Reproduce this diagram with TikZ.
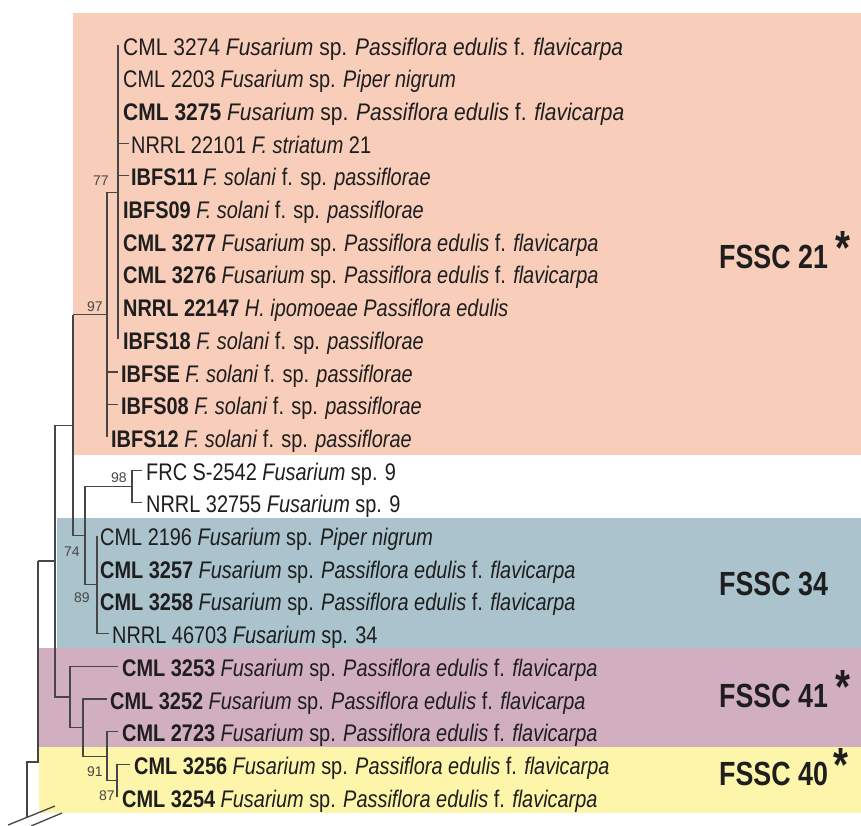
\documentclass[tikz,border=0pt]{standalone}
\usepackage{fontspec}
\setmainfont[FakeStretch=0.83]{Liberation Sans}
\newfontfamily\wideleaf[FakeStretch=0.875]{Liberation Sans}
\newfontfamily\cladefont[FakeStretch=0.8]{Liberation Sans}
\newfontfamily\bootfont{Liberation Sans}
\definecolor{salmonbg}{RGB}{248,205,186}
\definecolor{bluebg}{RGB}{170,195,205}
\definecolor{mauvebg}{RGB}{210,175,192}
\definecolor{yellowbg}{RGB}{253,245,170}
\definecolor{inkc}{RGB}{30,30,30}
\definecolor{linec}{RGB}{70,70,70}
\begin{document}
\begin{tikzpicture}[x=1pt,y=-1pt,
  leaf/.style={anchor=base west, inner sep=0pt, text=inkc, font=\fontsize{24}{24}\selectfont},
  wleaf/.style={leaf, font=\wideleaf\fontsize{24}{24}\selectfont},
  boot/.style={inner sep=0pt, text=black!72, font=\bootfont\fontsize{14}{14}\selectfont},
  clade/.style={anchor=base west, inner sep=0pt, text=inkc, font=\cladefont\bfseries\fontsize{33.5}{33.5}\selectfont},
  br/.style={draw=linec, line width=1.1pt}]
\useasboundingbox (0,0) rectangle (861,825);
\fill[white] (0,0) rectangle (861,825);
% clade backgrounds
\fill[salmonbg] (73,13) rectangle (861,455);
\fill[bluebg] (57,518) rectangle (861,648);
\fill[mauvebg] (39,648) rectangle (861,747);
\fill[yellowbg] (39,747) rectangle (861,813);
% leaves
\node[wleaf] (l1) at (123,55) {CML 3274 \textit{Fusarium} sp. \textit{Passiflora edulis} f. \textit{flavicarpa}};
\node[leaf] (l2) at (123,87.7) {CML 2203 \textit{Fusarium} sp. \textit{Piper nigrum}};
\node[wleaf] (l3) at (123,120.4) {\textbf{CML 3275} \textit{Fusarium} sp. \textit{Passiflora edulis} f. \textit{flavicarpa}};
\node[leaf] (l4) at (131,153.1) {NRRL 22101 \textit{F. striatum} 21};
\node[leaf] (l5) at (131,185.8) {\textbf{IBFS11} \textit{F. solani} f. sp. \textit{passiflorae}};
\node[leaf] (l6) at (123,218.5) {\textbf{IBFS09} \textit{F. solani} f. sp. \textit{passiflorae}};
\node[leaf] (l7) at (123,251.2) {\textbf{CML 3277} \textit{Fusarium} sp. \textit{Passiflora edulis} f. \textit{flavicarpa}};
\node[leaf] (l8) at (123,283.9) {\textbf{CML 3276} \textit{Fusarium} sp. \textit{Passiflora edulis} f. \textit{flavicarpa}};
\node[leaf] (l9) at (123,316.6) {\textbf{NRRL 22147} \textit{H. ipomoeae Passiflora edulis}};
\node[leaf] (l10) at (123,349.3) {\textbf{IBFS18} \textit{F. solani} f. sp. \textit{passiflorae}};
\node[leaf] (l11) at (121,382) {\textbf{IBFSE} \textit{F. solani} f. sp. \textit{passiflorae}};
\node[leaf] (l12) at (121,414.7) {\textbf{IBFS08} \textit{F. solani} f. sp. \textit{passiflorae}};
\node[leaf] (l13) at (111,447.4) {\textbf{IBFS12} \textit{F. solani} f. sp. \textit{passiflorae}};
\node[leaf] (l14) at (146,480.1) {FRC S-2542 \textit{Fusarium} sp. 9};
\node[leaf] (l15) at (146,512.8) {NRRL 32755 \textit{Fusarium} sp. 9};
\node[leaf] (l16) at (100,545.5) {CML 2196 \textit{Fusarium} sp. \textit{Piper nigrum}};
\node[leaf] (l17) at (100,578.2) {\textbf{CML 3257} \textit{Fusarium} sp. \textit{Passiflora edulis} f. \textit{flavicarpa}};
\node[leaf] (l18) at (100,610.9) {\textbf{CML 3258} \textit{Fusarium} sp. \textit{Passiflora edulis} f. \textit{flavicarpa}};
\node[leaf] (l19) at (112,643.6) {NRRL 46703 \textit{Fusarium} sp. 34};
\node[leaf] (l20) at (122,676.3) {\textbf{CML 3253} \textit{Fusarium} sp. \textit{Passiflora edulis} f. \textit{flavicarpa}};
\node[leaf] (l21) at (110,709) {\textbf{CML 3252} \textit{Fusarium} sp. \textit{Passiflora edulis} f. \textit{flavicarpa}};
\node[leaf] (l22) at (122,741.7) {\textbf{CML 2723} \textit{Fusarium} sp. \textit{Passiflora edulis} f. \textit{flavicarpa}};
\node[leaf] (l23) at (134,774.4) {\textbf{CML 3256} \textit{Fusarium} sp. \textit{Passiflora edulis} f. \textit{flavicarpa}};
\node[leaf] (l24) at (122,807.1) {\textbf{CML 3254} \textit{Fusarium} sp. \textit{Passiflora edulis} f. \textit{flavicarpa}};
% clade labels
\node[clade] (c21) at (719,268) {FSSC 21\kern8pt\raisebox{3.5pt}{\fontsize{48}{48}\selectfont*}};
\node[clade] (c34) at (719,595) {FSSC 34};
\node[clade] (c41) at (719,707) {FSSC 41\kern8pt\raisebox{3.5pt}{\fontsize{48}{48}\selectfont*}};
\node[clade] (c40) at (719,785) {FSSC 40\kern6pt\raisebox{3.5pt}{\fontsize{48}{48}\selectfont*}};
% tree: node 77
\draw[br] (118,45) -- (118,339.3);
\draw[br] (118,143.1) -- (129,143.1);
\draw[br] (118,175.8) -- (129,175.8);
\draw[br] (107,192.2) -- (118,192.2);
% node 97
\draw[br] (107,192.2) -- (107,437.4);
\draw[br] (107,372) -- (118,372);
\draw[br] (107,404.7) -- (118,404.7);
\draw[br] (73,314.8) -- (107,314.8);
% node 98
\draw[br] (142,470.1) -| (132,502.8) -- (142,502.8);
% node 89
\draw[br] (97,535.5) -- (97,633.6) -- (109,633.6);
% node 74
\draw[br] (132,486.45) -| (85,584.55) -- (97,584.55);
% node X
\draw[br] (73,314.8) -- (73,535.5) -- (85,535.5);
\draw[br] (55,425.15) -- (73,425.15);
% node 87
\draw[br] (130,764.4) -| (117,797.1);
% node 91
\draw[br] (118,731.7) -| (107,780.75) -- (117,780.75);
% node 83
\draw[br] (107,699) -| (83,756.2) -- (107,756.2);
% node 70
\draw[br] (118,666.3) -| (70,727.6) -- (83,727.6);
% node 55
\draw[br] (55,425.15) -- (55,697) -- (70,697);
\draw[br] (38,561) -- (55,561);
% root
\draw[br] (38,561) -- (38,762) -- (27,762) -- (27,817);
% break marks
\draw[br, line width=1.3pt] (8,825) -- (55,806);
\draw[br, line width=1.3pt] (31,826) -- (62,813);
% bootstrap values
\node[boot] (b77) at (101,181) {77};
\node[boot] (b97) at (95,307) {97};
\node[boot] (b98) at (119,478) {98};
\node[boot] (b74) at (72,552) {74};
\node[boot] (b89) at (82,598) {89};
\node[boot] (b91) at (95,772) {91};
\node[boot] (b87) at (107,796) {87};
\end{tikzpicture}
\end{document}
